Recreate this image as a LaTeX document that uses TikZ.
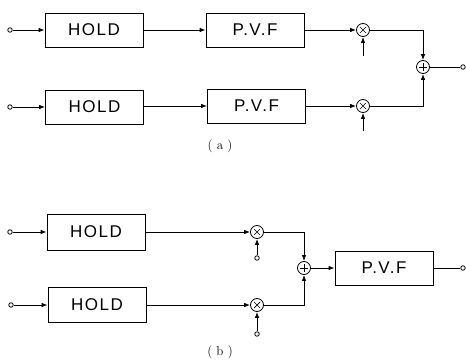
\documentclass[tikz,border=0pt]{standalone}
\usepackage{fontspec}
\newfontfamily\labfont[LetterSpace=9]{Liberation Sans}
\usetikzlibrary{arrows.meta}
\begin{document}
\begin{tikzpicture}[x=1pt,y=-1pt,
  line width=0.8pt,
  arr/.style={-{Latex[length=6pt,width=4.5pt]}},
  blk/.style={draw,rectangle,minimum width=98pt,minimum height=34pt,inner sep=0pt,font=\labfont\fontsize{17}{17}\selectfont},
  term/.style={draw,circle,minimum size=4.5pt,inner sep=0pt,fill=white},
  opc/.style={draw,circle,minimum size=13pt,inner sep=0pt},
  mulc/.style={opc,path picture={\draw[line width=0.7pt] ([shift={(-3pt,-3pt)}]path picture bounding box.center) -- ([shift={(3pt,3pt)}]path picture bounding box.center) ([shift={(-3pt,3pt)}]path picture bounding box.center) -- ([shift={(3pt,-3pt)}]path picture bounding box.center);}},
  sumc/.style={opc,path picture={\draw[line width=0.7pt] ([shift={(-4pt,0pt)}]path picture bounding box.center) -- ([shift={(4pt,0pt)}]path picture bounding box.center) ([shift={(0pt,-4pt)}]path picture bounding box.center) -- ([shift={(0pt,4pt)}]path picture bounding box.center);}},
  captxt/.style={font=\fontsize{13}{13}\selectfont}
]
\useasboundingbox (0,0) rectangle (466,361);
% ---------- (a)
\node[term] (ta1) at (10,30) {};
\node[blk] (ha1) at (94,30) {HOLD};
\node[blk] (pa1) at (255,30) {P.V.F};
\node[mulc] (ma1) at (363,30) {};
\coordinate (ia1) at (363,56);
\node[term] (ta2) at (10,107) {};
\node[blk] (ha2) at (94.5,107) {HOLD};
\node[blk] (pa2) at (256.5,106) {P.V.F};
\node[mulc] (ma2) at (363,106) {};
\coordinate (ia2) at (363,131);
\node[sumc] (sa) at (423,67) {};
\node[term] (oa) at (463,67) {};
\node[captxt] (capa) at (220,146) {( a )};
\draw[arr] (ta1) -- (ha1);
\draw[arr] (ha1) -- (pa1);
\draw[arr] (pa1.east |- ma1) -- (ma1);
\draw[arr] (ia1) -- (ma1);
\draw[arr] (ma1) -| (sa);
\draw[arr] (ta2) -- (ha2.west |- ta2);
\draw[arr] (ha2.east |- pa2) -- (pa2);
\draw[arr] (pa2) -- (ma2);
\draw[arr] (ia2) -- (ma2);
\draw[arr] (ma2) -| (sa);
\draw (sa) -- (oa);
% ---------- (b)
\node[term] (tb1) at (10,232) {};
\node[blk,minimum height=36pt] (hb1) at (96,232) {HOLD};
\node[mulc] (mb1) at (257,232) {};
\node[term] (ib1) at (257,258) {};
\node[term] (tb2) at (11,305) {};
\node[blk,minimum height=35pt] (hb2) at (97,305) {HOLD};
\node[mulc] (mb2) at (257,305) {};
\node[term] (ib2) at (257,334) {};
\node[sumc] (sb) at (304,268) {};
\node[blk] (pb) at (384,268) {P.V.F};
\node[term] (ob) at (463,268) {};
\node[captxt] (capb) at (220,352) {( b )};
\draw[arr] (tb1) -- (hb1);
\draw[arr] (hb1) -- (mb1);
\draw[arr] (ib1) -- (mb1);
\draw[arr] (mb1) -| (sb);
\draw[arr] (tb2) -- (hb2);
\draw[arr] (hb2) -- (mb2);
\draw[arr] (ib2) -- (mb2);
\draw[arr] (mb2) -| (sb);
\draw[arr] (sb) -- (pb);
\draw (pb) -- (ob);
\end{tikzpicture}
\end{document}
